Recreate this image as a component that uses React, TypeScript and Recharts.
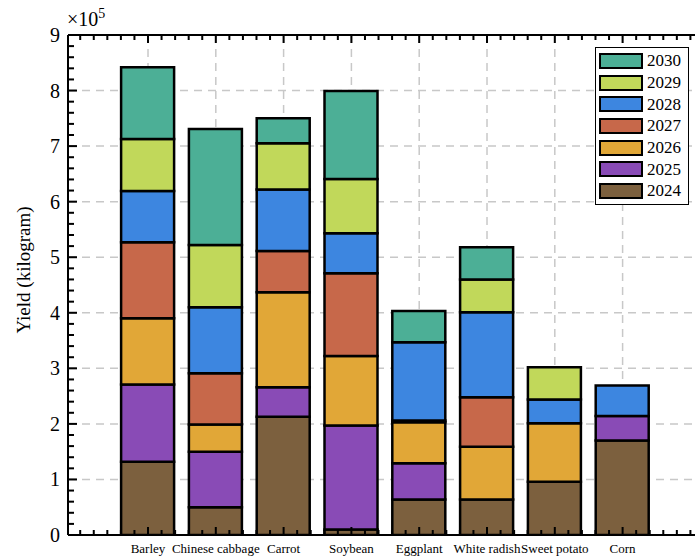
import { BarChart, Bar, XAxis, YAxis, CartesianGrid, Legend, ReferenceLine } from 'recharts';

const FONT = '"Liberation Serif", "Times New Roman", serif';

const categories = ['Barley', 'Chinese cabbage', 'Carrot', 'Soybean', 'Eggplant', 'White radish', 'Sweet potato', 'Corn'];
const years = ['2024', '2025', '2026', '2027', '2028', '2029', '2030'];

// yield in kilograms
const yield2024 = [132000, 50000, 213000, 10000, 64000, 64000, 96000, 170000];
const yield2025 = [139000, 100000, 53000, 187000, 65000, 0, 0, 44000];
const yield2026 = [119000, 49000, 171000, 125000, 74000, 95000, 105000, 0];
const yield2027 = [137000, 92000, 74000, 149000, 3000, 89000, 0, 0];
const yield2028 = [92000, 119000, 111000, 72000, 141000, 153000, 43000, 55000];
const yield2029 = [94000, 112000, 83000, 98000, 0, 59000, 58000, 0];
const yield2030 = [129000, 209000, 45000, 158000, 56000, 58000, 0, 0];

const seriesValues = [yield2024, yield2025, yield2026, yield2027, yield2028, yield2029, yield2030];
const colors = ['#7C603E', '#894BB6', '#E1A737', '#C7684A', '#3D86E0', '#C1D85A', '#4CAF96'];

const yDomain = [0, 900000];
const yGrid = [100000, 200000, 300000, 400000, 500000, 600000, 700000, 800000];

const xDomain = [-1.18, 8.82];
const xTicks: number[] = [];
for (let k = -5; k <= 44; k++) xTicks.push(k / 5);
const yTicks: number[] = [];
for (let k = 0; k <= 45; k++) yTicks.push(k * 20000);

const CHART_H = 560;
const MARGIN_TOP = 35;
const XAXIS_H = 25;
const PLOT_H = CHART_H - MARGIN_TOP - XAXIS_H;

const data = categories.map((name, i) => {
  const row: any = { pos: i, name };
  years.forEach((yr, s) => {
    row[yr] = seriesValues[s][i];
  });
  return row;
});

const applyScale = (scale: any, v: number) => {
  if (typeof scale === 'function') return scale(v);
  if (scale && typeof scale.map === 'function') return scale.map(v);
  return undefined;
};

const gridX = (p: any) =>
  categories.map((_, i) => {
    const s = applyScale(p.xAxis && p.xAxis.scale, i);
    if (s !== undefined) return s;
    const o = p.offset;
    return o.left + ((i - xDomain[0]) / (xDomain[1] - xDomain[0])) * o.width;
  });

const gridY = (p: any) =>
  yGrid.map((v) => {
    const s = applyScale(p.yAxis && p.yAxis.scale, v);
    if (s !== undefined) return s;
    const o = p.offset;
    return o.top + o.height - ((v - yDomain[0]) / (yDomain[1] - yDomain[0])) * o.height;
  });

const isMajorX = (v: number) => {
  const idx = Math.round(v);
  return Math.abs(v - idx) < 1e-6 && idx >= 0 && idx < categories.length;
};

// bottom axis ticks, mirrored on the top frame edge (drawn as filled rects)
const renderBottomTick = (props: any) => {
  const { x, y, payload, index } = props;
  const v = payload.value;
  const major = isMajorX(v);
  const len = major ? 8 : 5;
  const top = y - PLOT_H;
  return (
    <g key={`b-${index}`}>
      <rect x={x - 1} y={y - len} width={2} height={len} fill="#000" />
      <rect x={x - 1} y={top} width={2} height={len} fill="#000" />
      {major && (
        <text x={x} y={y + 18} textAnchor="middle" fontSize={13} fontFamily={FONT} fill="#000">
          {categories[Math.round(v)]}
        </text>
      )}
    </g>
  );
};

const renderLeftTick = (props: any) => {
  const { x, y, payload, index } = props;
  const v = payload.value;
  const major = v % 100000 === 0;
  return (
    <g key={`l-${index}`}>
      <rect x={x} y={y - 1} width={major ? 9 : 6} height={2} fill="#000" />
      {major && (
        <text x={x - 8} y={y} dy="0.35em" textAnchor="end" fontSize={20} fontFamily={FONT} fill="#000">
          {v / 100000}
        </text>
      )}
    </g>
  );
};

const LegendBox = (props: any) => {
  const items = [...(props.payload || [])].reverse();
  return (
    <div
      style={{
        border: '1.5px solid #000',
        background: '#fff',
        padding: '2px 3px 2px 3px',
        width: 86,
        fontFamily: FONT,
      }}
    >
      {items.map((it: any) => (
        <div key={it.value} style={{ display: 'flex', alignItems: 'center', height: 21.7 }}>
          <div
            style={{
              width: 44,
              height: 16,
              background: it.color,
              border: '2.5px solid #000',
              boxSizing: 'border-box',
            }}
          />
          <span style={{ marginLeft: 4, fontSize: 17, lineHeight: 1, color: '#000' }}>{it.value}</span>
        </div>
      ))}
    </div>
  );
};

export default function App() {
  return (
    <div style={{ position: 'fixed', top: 0, left: 0, width: 695, height: 560, overflow: 'hidden', background: '#fff' }}>
      <div style={{ position: 'absolute', left: 67, top: 7, fontFamily: FONT, fontSize: 20, lineHeight: 1, color: '#000', zIndex: 2 }}>
        ×10<sup style={{ fontSize: 14, verticalAlign: 8 }}>5</sup>
      </div>
      <BarChart width={760} height={CHART_H} data={data} margin={{ top: MARGIN_TOP, right: 14, bottom: 0, left: 0 }}>
        <CartesianGrid
          stroke="#c8c8c8"
          strokeWidth={1.5}
          strokeDasharray="8 6"
          verticalCoordinatesGenerator={gridX}
          horizontalCoordinatesGenerator={gridY}
        />
        {years.map((yr, s) => (
          <Bar
            key={yr}
            dataKey={yr}
            stackId="a"
            fill={colors[s]}
            stroke="#000"
            strokeWidth={2.5}
            barSize={53}
            isAnimationActive={false}
          />
        ))}
        <ReferenceLine y={900000} stroke="#000" strokeWidth={2} />
        <XAxis
          dataKey="pos"
          type="number"
          domain={xDomain}
          allowDataOverflow
          ticks={xTicks}
          interval={0}
          tickLine={false}
          tickSize={0}
          tickMargin={0}
          height={XAXIS_H}
          axisLine={{ stroke: '#000', strokeWidth: 2 }}
          tick={renderBottomTick}
        />
        <YAxis
          type="number"
          domain={yDomain}
          allowDataOverflow
          ticks={yTicks}
          interval={0}
          tickLine={false}
          tickSize={0}
          tickMargin={0}
          width={68}
          axisLine={{ stroke: '#000', strokeWidth: 2 }}
          tick={renderLeftTick}
          label={() => (
            <text
              x={23}
              y={270}
              transform="rotate(-90 23 270)"
              textAnchor="middle"
              dominantBaseline="central"
              fontSize={19}
              fontFamily={FONT}
              fill="#000"
            >
              Yield (kilogram)
            </text>
          )}
        />
        <Legend
          layout="horizontal"
          verticalAlign="middle"
          align="center"
          wrapperStyle={{ top: 47, left: 595, width: 'auto' }}
          content={<LegendBox />}
        />
      </BarChart>
    </div>
  );
}
